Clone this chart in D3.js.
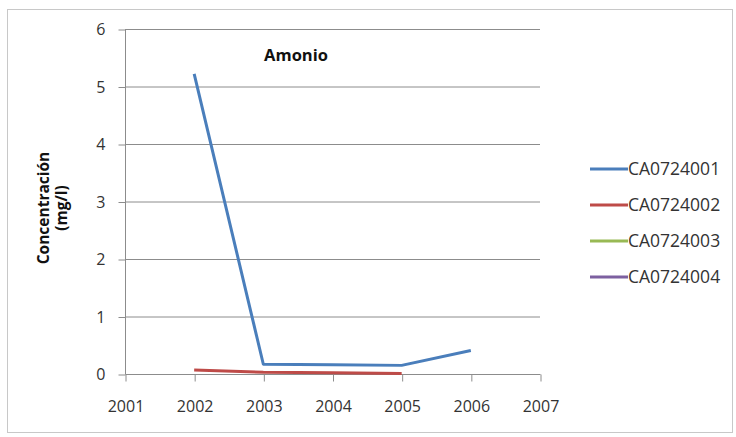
<!DOCTYPE html>
<html>
<head>
<meta charset="utf-8">
<script src="https://cdn.jsdelivr.net/npm/d3@7"></script>
<style>
  body { margin: 0; background: #fff; }
  text { font-family: "Open Sans", "Liberation Sans", sans-serif; fill: #333; }
</style>
</head>
<body>
<div id="chart"></div>
<script>
// --- data ---
const years = [2002, 2003, 2004, 2005, 2006];
const series = ["CA0724001", "CA0724002", "CA0724003", "CA0724004"];
const colors = ["#4a7ebb", "#be4b48", "#98b954", "#7d60a0"];
const valuesCA01 = [5.22, 0.17, 0.16, 0.15, 0.41];
const valuesCA02 = [0.07, 0.03, 0.02, 0.01, null];
const valuesCA03 = [null, null, null, null, null];
const valuesCA04 = [null, null, null, null, null];
const yTicks = [0, 1, 2, 3, 4, 5, 6];
const xTicks = [2001, 2002, 2003, 2004, 2005, 2006, 2007];

const allValues = [valuesCA01, valuesCA02, valuesCA03, valuesCA04];

const width = 736, height = 437;
const svg = d3.select("#chart").append("svg")
  .attr("width", width)
  .attr("height", height);

// outer frame
svg.append("rect")
  .attr("x", 7.5).attr("y", 9.5)
  .attr("width", 725).attr("height", 423)
  .attr("fill", "none").attr("stroke", "#c8c8c8");

const x = d3.scaleLinear().domain([2001, 2007]).range([125, 540]);
const y = d3.scaleLinear().domain([0, 6]).range([374, 29]);

// gridlines
svg.append("g").selectAll("line")
  .data(yTicks.filter(d => d > 0))
  .join("line")
  .attr("x1", x(2001)).attr("x2", x(2007))
  .attr("y1", d => y(d) + 0.5).attr("y2", d => y(d) + 0.5)
  .attr("stroke", "#8c8c8c").attr("stroke-width", 1);

// y axis
const yAxis = svg.append("g")
  .attr("transform", `translate(${x(2001) + 0.5},0.5)`)
  .call(d3.axisLeft(y).tickValues(yTicks).tickSize(7).tickPadding(13).tickFormat(d3.format("d")));
yAxis.selectAll("line, path").attr("stroke", "#8c8c8c");
yAxis.select("path").attr("d", `M0,${y(6)}V${y(0)}`);
yAxis.selectAll("text").attr("font-size", 16).attr("fill", "#333");

// x axis
const xAxis = svg.append("g")
  .attr("transform", `translate(0.5,${y(0) + 0.5})`)
  .call(d3.axisBottom(x).tickValues(xTicks).tickSize(7).tickPadding(19).tickFormat(d3.format("d")));
xAxis.selectAll("line, path").attr("stroke", "#8c8c8c");
xAxis.select("path").attr("d", `M${x(2001)},0H${x(2007)}`);
xAxis.selectAll("text").attr("font-size", 16).attr("fill", "#333");

// lines
const line = d3.line()
  .defined(d => d.v != null)
  .x(d => x(d.year))
  .y(d => y(d.v));

series.forEach((name, i) => {
  const pts = years.map((yr, j) => ({ year: yr, v: allValues[i][j] }));
  svg.append("path")
    .datum(pts)
    .attr("fill", "none")
    .attr("stroke", colors[i])
    .attr("stroke-width", 3)
    .attr("stroke-linejoin", "round")
    .attr("d", line);
});

// title
svg.append("text")
  .attr("x", 296).attr("y", 61)
  .attr("text-anchor", "middle")
  .attr("font-size", 16.5).attr("font-weight", "bold")
  .style("fill", "#111")
  .text("Amonio");

// y label
const yl = svg.append("text")
  .attr("transform", "translate(49,208) rotate(-90)")
  .attr("text-anchor", "middle")
  .attr("font-size", 15.5).attr("font-weight", "bold")
  .style("fill", "#111");
yl.append("tspan").attr("x", 0).attr("dy", 0).text("Concentración");
yl.append("tspan").attr("x", 0).attr("dy", 18).text("(mg/l)");

// legend
const legend = svg.append("g").selectAll("g")
  .data(series)
  .join("g")
  .attr("transform", (d, i) => `translate(590,${169 + i * 36})`);
legend.append("line")
  .attr("x1", 0).attr("x2", 38)
  .attr("stroke", (d, i) => colors[i]).attr("stroke-width", 3);
legend.append("text")
  .attr("x", 38).attr("y", 6)
  .attr("font-size", 17.5)
  .text(d => d);
</script>
</body>
</html>
